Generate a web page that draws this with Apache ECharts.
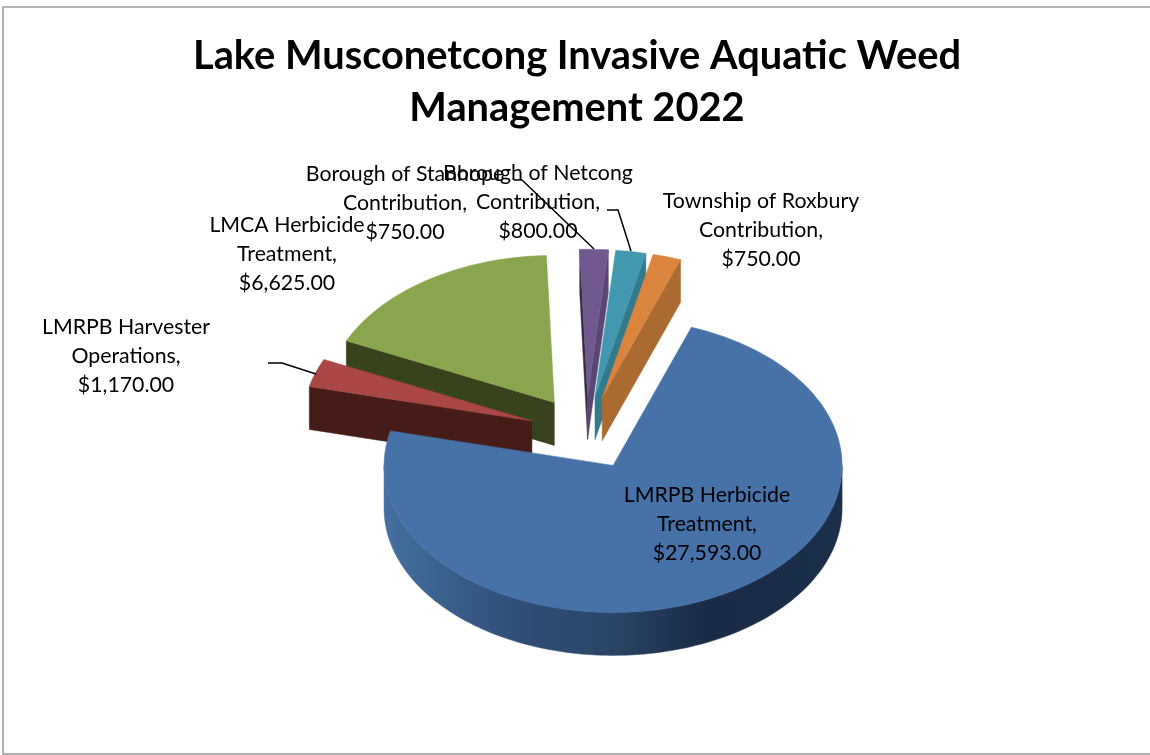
<!DOCTYPE html>
<html><head><meta charset="utf-8">
<style>html,body{margin:0;padding:0;background:#fff}#c{width:1150px;height:755px}</style>
<script src="https://cdn.jsdelivr.net/npm/echarts@6/dist/echarts.min.js"></script>
</head><body><div id="c"></div>
<script>
// ---- data ----
const categories = [
  "LMRPB Herbicide\nTreatment",
  "LMRPB Harvester\nOperations",
  "LMCA Herbicide\nTreatment",
  "Borough of Stanhope\nContribution",
  "Borough of Netcong\nContribution",
  "Township of Roxbury\nContribution"
];
const values = [27593, 1170, 6625, 750, 800, 750];
const titleLines = ["Lake Musconetcong Invasive Aquatic Weed", "Management 2022"];

// ---- styling and layout ----
const topColors = ["#4672a8", "#aa4643", "#89a54e", "#71588f", "#4198af", "#db843d"];
const cutColors = ["#2d4a70", "#461c18", "#38421d", "#5a4672", "#337a8c", "#ab6a30"];
const drawOrder = [2, 1, 3, 4, 5, 0];
const pie = { cx: 586, cy: 433, rx: 229, ry: 147, depth: 43, explode: 0.25, startDeg: 20 };
const labelAnchors = [[707, 524], [126, 356], [287, 254], [405, 203], [538, 202], [761, 230]];
const leaders = [null, [[268, 363], [282, 363], [316, 374]], null,
  [[514, 180], [522, 180], [594, 249]], [[607, 210], [618, 210], [631, 251]], null];
const FONT = "Lato";

const total = values.reduce((a, b) => a + b, 0);
const money = v => "$" + v.toLocaleString("en-US", { minimumFractionDigits: 2, maximumFractionDigits: 2 });
const rad = d => d * Math.PI / 180;

function arcPoints(c, a0, a1) {
  const n = Math.max(2, Math.ceil(Math.abs(a1 - a0) / 1.5)), pts = [];
  for (let i = 0; i <= n; i++) {
    const a = rad(a0 + (a1 - a0) * i / n);
    pts.push([c[0] + pie.rx * Math.sin(a), c[1] - pie.ry * Math.cos(a)]);
  }
  return pts;
}
const down = pts => pts.map(p => [p[0], p[1] + pie.depth]);

function renderItem(params, api) {
  const i = params.dataIndex, v = api.value(0);
  let before = 0;
  for (let k = 0; k < i; k++) before += values[k];
  const s = pie.startDeg + before / total * 360, e = s + v / total * 360, m = rad((s + e) / 2);
  const c = [pie.cx + pie.explode * pie.rx * Math.sin(m), pie.cy - pie.explode * pie.ry * Math.cos(m)];
  const z = 10 * (drawOrder.indexOf(i) + 1);
  const kids = [];
  const poly = (points, fill, dz) => kids.push({ type: "polygon", z2: z + dz, shape: { points }, style: { fill, stroke: fill, lineWidth: 0.5 } });
  const nrm = a => ((a % 360) + 360) % 360;

  // cut faces that look towards the viewer
  const face = a => { const p = arcPoints(c, a, a)[0]; return [c, p, [p[0], p[1] + pie.depth], [c[0], c[1] + pie.depth]]; };
  if (Math.sin(rad(nrm(s))) < 0) poly(face(s), i === 3 ? "#352a45" : cutColors[i], 0);
  if (Math.sin(rad(nrm(e))) > 0) poly(face(e), cutColors[i], 0);

  // outer rim on the front half
  const loS = Math.max(s, 90), hiE = Math.min(e, 270);
  if (hiE > loS) {
    const top = arcPoints(c, loS, hiE);
    poly(top.concat(down(top).reverse()), i === 0 ? {
      type: "linear", x: 0, y: 0, x2: 1, y2: 0,
      colorStops: [{ offset: 0, color: "#44709f" }, { offset: 0.28, color: "#304f78" }, { offset: 0.5, color: "#2a4567" },
        { offset: 0.7, color: "#1a2b45" }, { offset: 1, color: "#1b2f4b" }]
    } : cutColors[i], 1);
  }
  // top surface
  poly([c].concat(arcPoints(c, s, e)), topColors[i], 2);

  // leader line
  if (leaders[i]) kids.push({ type: "polyline", z2: 200, shape: { points: leaders[i] }, style: { stroke: "#000", lineWidth: 1.5, fill: null } });
  // label
  kids.push({ type: "text", z2: 300, x: labelAnchors[i][0], y: labelAnchors[i][1], style: {
    text: categories[i] + ",\n" + money(v), fill: "#000", font: "21.3px " + FONT,
    align: "center", verticalAlign: "middle", lineHeight: 29
  }});
  return { type: "group", children: kids };
}

const chart = echarts.init(document.getElementById("c"), null, { renderer: "canvas" });
chart.setOption({
  animation: false,
  backgroundColor: "#fff",
  title: {
    text: titleLines.join("\n"), left: 572, top: 25, textAlign: "center",
    textStyle: { fontFamily: FONT, fontWeight: "bold", fontSize: 39.8, lineHeight: 52, color: "#000" }
  },
  graphic: [{ type: "rect", silent: true, shape: { x: 3, y: 7, width: 1160, height: 747 }, style: { fill: "none", stroke: "#999", lineWidth: 1.5 } }],
  series: [{
    type: "custom", coordinateSystem: "none", silent: true, clip: false,
    renderItem, data: values.map((v, i) => ({ name: categories[i], value: [v] })),
    encode: { value: 0 }
  }]
});
</script></body></html>
